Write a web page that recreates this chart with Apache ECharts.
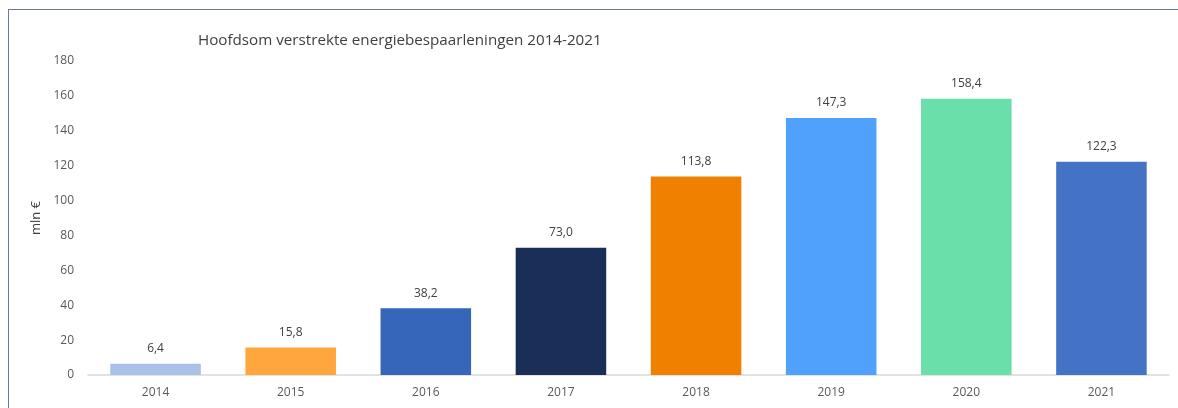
<!DOCTYPE html>
<html>
<head>
<meta charset="utf-8">
<script src="https://cdn.jsdelivr.net/npm/echarts@6/dist/echarts.min.js"></script>
<style>
html,body{margin:0;padding:0;background:#fff;}
#frame{position:absolute;left:8px;top:9px;width:1170px;height:399px;border-left:1.5px solid #6b7898;border-top:1.5px solid #6b7898;box-sizing:border-box;}
#chart{position:absolute;left:0;top:0;width:1178px;height:408px;}
</style>
</head>
<body>
<div id="frame"></div>
<div id="chart"></div>
<script>
const years = ['2014','2015','2016','2017','2018','2019','2020','2021'];
const values = [6.4, 15.8, 38.2, 73.0, 113.8, 147.3, 158.4, 122.3];
const barColors = ['#A9C0E8','#FFA63C','#3566BA','#1A2F58','#F08000','#4FA1FC','#6ADFAA','#4472C4'];
const yTicks = [0, 20, 40, 60, 80, 100, 120, 140, 160, 180];

const chart = echarts.init(document.getElementById('chart'));
const font = '"Open Sans", sans-serif';
chart.setOption({
  animation: false,
  title: {
    text: 'Hoofdsom verstrekte energiebespaarleningen 2014-2021',
    left: 193, top: 28,
    textStyle: {fontFamily: font, fontSize: 15.2, fontWeight: 'normal', color: '#404040'}
  },
  grid: {left: 88, right: 9, top: 61, bottom: 33},
  xAxis: {
    type: 'category',
    data: years,
    axisLine: {lineStyle: {color: '#d9d9d9', width: 1.5}},
    axisTick: {show: false},
    axisLabel: {fontFamily: font, fontSize: 12, color: '#595959', margin: 12}
  },
  yAxis: {
    type: 'value',
    min: yTicks[0], max: yTicks[yTicks.length - 1], interval: 20,
    name: 'mln €',
    nameLocation: 'middle',
    nameGap: 44,
    nameTextStyle: {fontFamily: font, fontSize: 13, color: '#404040'},
    axisLine: {show: false},
    axisTick: {show: false},
    splitLine: {show: false},
    axisLabel: {fontFamily: font, fontSize: 12, color: '#595959', margin: 14}
  },
  series: [{
    type: 'bar',
    barWidth: '67%',
    data: values.map((v, i) => ({value: v, itemStyle: {color: barColors[i]}})),
    label: {
      show: true, position: 'top', distance: 9,
      fontFamily: font, fontSize: 12, color: '#404040',
      formatter: p => p.value.toFixed(1).replace('.', ',')
    }
  }]
});
</script>
</body>
</html>
